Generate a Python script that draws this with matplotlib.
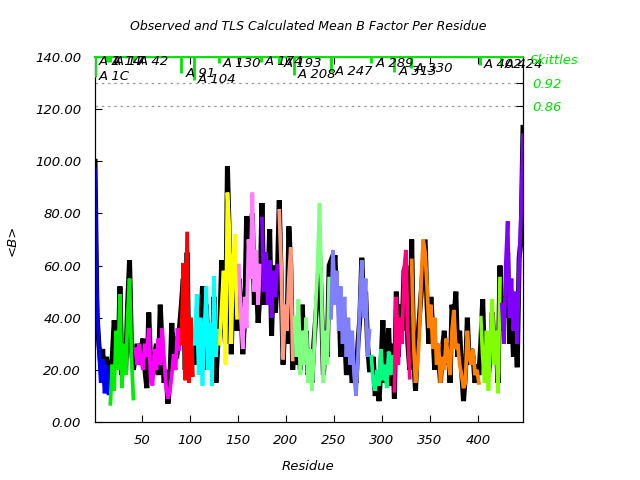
import numpy as np
import matplotlib
matplotlib.use("Agg")
import matplotlib.pyplot as plt
from matplotlib.transforms import offset_copy

plt.rcParams['font.family'] = ['DejaVu Sans']
plt.rcParams['font.style'] = 'italic'
plt.rcParams['font.size'] = 9

# residues sampled (odd residues 1..447)
residue = np.arange(1, 448, 2)

# TLS calculated mean B per residue (segment by segment)
b_calc = [
    97, 50, 28, 15, 24, 11, 22, 11,                                   # A 1
    7, 22, 12, 35, 20, 49, 13, 30, 18, 40, 55, 25, 9,                 # A 17
    28, 22, 30, 24, 20, 30, 25, 36, 16, 14, 28, 20, 32, 22, 36, 24,
    14, 9, 12, 18, 26, 20, 36, 28,                                    # A 42
    30, 61, 16, 73, 15, 40, 18,                                       # A 91
    30, 49, 18, 40, 14, 35, 52, 20, 38, 14, 56, 25, 35,               # A 104
    30, 45, 58, 22, 88, 74, 30, 62, 72, 40,                           # A 130
    60, 40, 28, 48, 36, 70, 55, 88, 50, 66, 45, 60,                   # A 150
    78, 50, 65, 45, 62, 40, 58, 48, 60,                               # A 174
    81, 60, 24, 45, 35, 55, 67, 24,                                   # A 193
    40, 25, 47, 18, 35, 22, 40, 15, 28, 12, 25, 45, 60, 84, 50, 15,
    35, 22, 55,                                                       # A 208
    40, 66, 45, 58, 35, 52, 30, 48, 25, 40, 22, 35, 18, 10, 25, 45,
    62, 40, 55, 25, 35,                                               # A 247
    25, 15, 12, 20, 14, 28, 16, 22, 13, 27, 18, 25,                   # A 289
    12, 48, 22, 40, 30, 58, 66, 35, 17,                               # A 313
    62, 30, 15, 22, 33, 55, 70, 65, 52, 36, 45, 28, 40, 22, 30, 15,
    25, 20, 32, 24, 18, 35, 43, 28, 30, 22, 18, 13, 15, 35, 25, 22,
    28, 18, 20, 15,                                                   # A 330
    40, 25, 15, 35, 12, 30, 47, 22, 35, 11, 55,                       # A 402
    45, 30, 60, 77, 40, 55, 35, 50, 30, 62, 80, 110,                  # A 424
]

# observed mean B per residue
b_obs = [
    100, 42, 30, 22, 28, 15, 25, 18,
    14, 25, 39, 30, 22, 52, 18, 25, 20, 45, 62, 28, 20,
    25, 30, 22, 28, 32, 20, 13, 42, 22, 18, 25, 30, 18, 45, 28, 15,
    20, 7, 16, 38, 20, 30, 28, 36,
    45, 55, 20, 65, 18, 30, 25,
    22, 40, 28, 35, 52, 20, 45, 25, 35, 22, 48, 15, 30,
    35, 62, 40, 30, 98, 70, 26, 58, 55, 35,
    55, 45, 26, 40, 79, 62, 72, 80, 45, 55, 38, 50,
    84, 45, 60, 50, 74, 33, 60, 42, 55,
    85, 55, 22, 40, 30, 75, 60, 20,
    35, 22, 40, 20, 45, 25, 35, 18, 22, 15, 30, 40, 50, 65, 45, 18,
    30, 25, 60,
    62, 55, 64, 45, 50, 25, 40, 35, 18, 30, 25, 15, 22, 15, 30, 40,
    63, 45, 50, 30, 20,
    20, 25, 10, 15, 8, 22, 39, 15, 20, 36, 14, 30,
    9, 50, 25, 45, 35, 58, 60, 30, 20,
    70, 25, 12, 30, 40, 50, 60, 70, 45, 30, 48, 35, 20, 30, 25, 15,
    28, 35, 22, 30, 15, 45, 38, 50, 25, 35, 20, 8, 18, 40, 22, 28,
    25, 15, 22, 18,
    30, 47, 20, 30, 18, 25, 42, 28, 30, 15, 60,
    35, 48, 40, 65, 30, 45, 25, 40, 21, 63, 70, 113,
]

# TLS segments
seg_start = [1, 17, 42, 91, 104, 130, 150, 174, 193, 208, 247, 289, 313, 330, 402, 424]
seg_color = ['#0000ff', '#00ee00', '#ff00ff', '#ff0000', '#00ffff', '#ffff00',
             '#ff80ff', '#8000ff', '#ff9980', '#80ff80', '#8080ff', '#00ff80',
             '#ff0080', '#ff8000', '#80ff00', '#8000ff']

# Skittles markers (labels, residue, level on right axis)
sk_label = ["A 1", "A 1C", "A 14", "A 17", "A 42", "A 91", "A 104", "A 130",
            "A 174", "A 193", "A 208", "A 247", "A 289", "A 313", "A 330",
            "A 402", "A 424"]
sk_res = [1, 1, 14, 17, 42, 91, 104, 130, 174, 193, 208, 247, 289, 313, 330, 402, 424]
sk_level = [0.975, 0.936, 0.975, 0.975, 0.975, 0.946, 0.928, 0.972, 0.975,
            0.970, 0.941, 0.949, 0.972, 0.949, 0.959, 0.967, 0.967]
right_ticks = [0.86, 0.92]

GREEN = '#00e600'

fig = plt.figure(figsize=(6.4, 4.8), dpi=100)
ax = fig.add_axes([95/640, 58/480, 428/640, 365/480])
ax.set_xlim(1, 447)
ax.set_ylim(0, 140)

res = np.asarray(residue)
calc = np.asarray(b_calc, dtype=float)
obs = np.asarray(b_obs, dtype=float)

ax.plot(res, obs, color='black', lw=3.6, solid_joinstyle='miter', zorder=2)
bounds = seg_start + [10000]
for i, c in enumerate(seg_color):
    m = (res >= bounds[i]) & (res < bounds[i + 1])
    ax.plot(res[m], calc[m], color=c, lw=2.7, solid_joinstyle='miter', zorder=3)

ax.set_xticks([50, 100, 150, 200, 250, 300, 350, 400])
ax.set_yticks(np.arange(0, 141, 20))
ax.set_yticklabels([f"{v:.2f}" for v in np.arange(0, 141, 20)])
ax.tick_params(direction='in', length=5, top=True, right=True, labelright=False,
               pad=9, labelsize=9.5)
ax.tick_params(axis='y', pad=10)

ax2 = ax.twinx()
top = 0.92 + 26 / 383.3
bot = 0.92 - 339 / 383.3
ax2.set_ylim(bot, top)
ax2.set_xlim(1, 447)
ax2.set_yticks(right_ticks)
ax2.set_yticklabels([f"{v:.2f}" for v in right_ticks])
ax2.tick_params(direction='in', length=5, colors='black', labelcolor=GREEN,
                pad=7, labelsize=9.5)
for v in right_ticks:
    ax2.axhline(v, color='#999999', lw=0.9, ls=(0, (2, 3)), zorder=1)

ax2.plot([1, 447], [top, top], color=GREEN, lw=1.4, clip_on=False, zorder=4)
ax2.vlines(sk_res, sk_level, top, color=GREEN, lw=2, zorder=4)
trans = offset_copy(ax2.transData, fig=fig, x=4, y=0, units='dots')
for lab, r, lv in zip(sk_label, sk_res, sk_level):
    ax2.text(r, lv, lab, transform=trans, ha='left', va='center', fontsize=9.5,
             color='black', zorder=5)

fig.text(530/640, 1 - 61/480, "Skittles", color=GREEN, ha='left', va='center', fontsize=9.5)
fig.text(308/640, 1 - 27/480, "Observed and TLS Calculated Mean B Factor Per Residue",
         ha='center', va='center', fontsize=9)
fig.text(308/640, 1 - 467/480, "Residue", ha='center', va='center', fontsize=9.5)
fig.text(12/640, 240/480, "<B>", ha='center', va='center', rotation=90, fontsize=9.5)

fig.savefig("out.png", dpi=100)
